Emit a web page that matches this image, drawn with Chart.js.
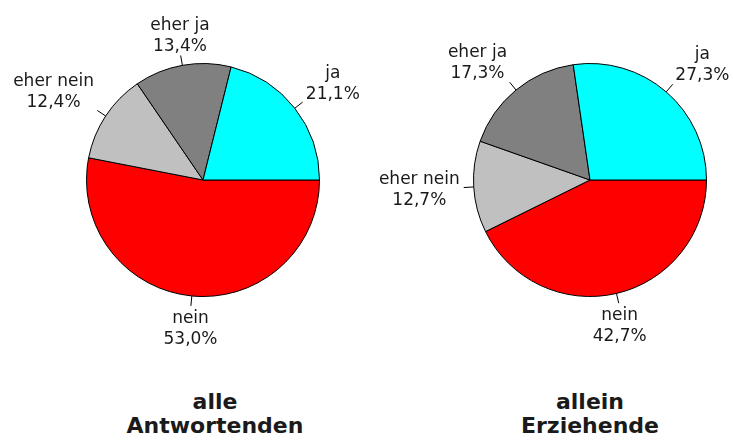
<!DOCTYPE html>
<html>
<head>
<meta charset="utf-8">
<script src="https://cdn.jsdelivr.net/npm/chart.js@4/dist/chart.umd.min.js"></script>
<style>
  html, body { margin: 0; padding: 0; background: #fff; }
  #wrap { position: relative; width: 733px; height: 440px; overflow: hidden; }
  canvas { position: absolute; top: 0; }
  .ttl { position: absolute; top: 390px; width: 240px; text-align: center;
         font: bold 22px "DejaVu Sans", sans-serif; line-height: 24px; color: #1a1a1a; }
</style>
</head>
<body>
<div id="wrap">
  <canvas id="c1" width="366" height="360" style="left:0px"></canvas>
  <canvas id="c2" width="367" height="360" style="left:366px"></canvas>
  <div class="ttl" id="t1" style="left:95px"></div>
  <div class="ttl" id="t2" style="left:470px"></div>
</div>
<script>
// Categories in the order they appear counter-clockwise from 3 o'clock
const categories = ['ja', 'eher ja', 'eher nein', 'nein'];
const valuesAlle = [21.1, 13.4, 12.4, 53.0];
const valuesAllein = [27.3, 17.3, 12.7, 42.7];
const titleAlle = ['alle', 'Antwortenden'];
const titleAllein = ['allein', 'Erziehende'];
const sliceColors = ['#00FFFF', '#808080', '#C0C0C0', '#FF0000'];

function fmt(v) { return v.toFixed(1).replace('.', ',') + '%'; }

const labelPlugin = {
  id: 'outLabels',
  afterDatasetsDraw(chart) {
    const ctx = chart.ctx;
    const meta = chart.getDatasetMeta(0);
    const labels = chart.data.labels;
    const vals = chart.data.datasets[0].data;
    ctx.save();
    ctx.font = '17px "DejaVu Sans", sans-serif';
    ctx.fillStyle = '#1a1a1a';
    ctx.strokeStyle = '#000';
    ctx.lineWidth = 1;
    const LH = 21;
    meta.data.forEach((arc, i) => {
      const p = arc.getProps(['x', 'y', 'startAngle', 'endAngle', 'outerRadius'], true);
      const mid = (p.startAngle + p.endAngle) / 2;
      const c = Math.cos(mid), s = Math.sin(mid);
      const r = p.outerRadius;
      const x0 = p.x + c * r, y0 = p.y + s * r;
      const x1 = p.x + c * (r + 10), y1 = p.y + s * (r + 10);
      ctx.beginPath();
      ctx.moveTo(x0, y0);
      ctx.lineTo(x1, y1);
      ctx.stroke();
      const ax = x1 + c * 4, ay = y1 + s * 4;
      const lines = [labels[i], fmt(vals[i])];
      let align = 'center';
      if (c > 0.3) align = 'left'; else if (c < -0.3) align = 'right';
      let b1;
      if (s < -0.3) b1 = ay - 1 - LH;         // box bottom at anchor
      else if (s > 0.3) b1 = ay + 13;         // box top at anchor
      else b1 = ay - 4;                        // middle
      const w = Math.max(...lines.map(t => ctx.measureText(t).width));
      let bx;
      if (align === 'left') bx = ax + w / 2;
      else if (align === 'right') bx = ax - w / 2;
      else bx = ax;
      ctx.textAlign = 'center';
      ctx.textBaseline = 'alphabetic';
      lines.forEach((t, k) => ctx.fillText(t, bx, b1 + k * LH));
    });
    ctx.restore();
  }
};

function makePie(id, values, pad) {
  // Chart.js draws clockwise; reverse so slices run counter-clockwise from 3 o'clock
  const labs = categories.slice().reverse();
  const data = values.slice().reverse();
  const cols = sliceColors.slice().reverse();
  return new Chart(document.getElementById(id), {
    type: 'pie',
    data: {
      labels: labs,
      datasets: [{ data: data, backgroundColor: cols, borderColor: '#000', borderWidth: 1, hoverOffset: 0 }]
    },
    options: {
      responsive: false,
      animation: false,
      events: [],
      rotation: 90,
      layout: { padding: pad },
      plugins: { legend: { display: false }, tooltip: { enabled: false }, title: { display: false } }
    },
    plugins: [labelPlugin]
  });
}

makePie('c1', valuesAlle, { left: 86, right: 46, top: 63, bottom: 63 });
makePie('c2', valuesAllein, { left: 107, right: 26, top: 63, bottom: 63 });
document.getElementById('t1').innerHTML = titleAlle.join('<br>');
document.getElementById('t2').innerHTML = titleAllein.join('<br>');
</script>
</body>
</html>
